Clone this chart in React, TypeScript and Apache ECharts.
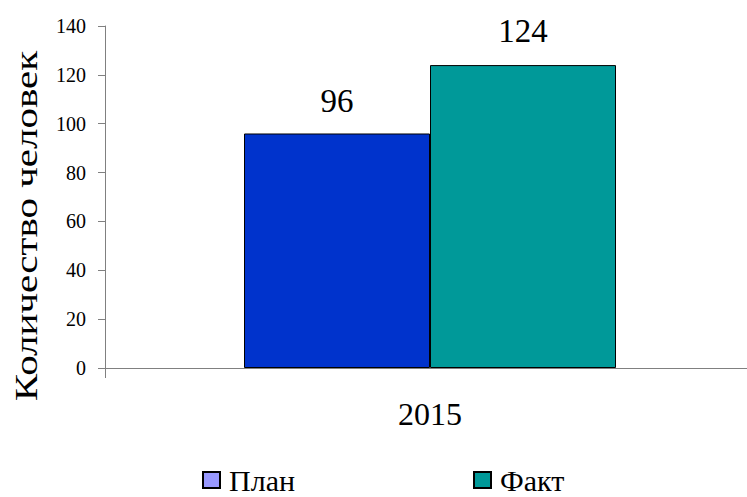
import React, { useEffect, useRef } from "react";
import * as echarts from "echarts";

const categories = ["2015"];
const planValues = [96];
const factValues = [124];
const yTicks = [0, 20, 40, 60, 80, 100, 120, 140];
const yTitle = "Количество человек";
const seriesNames = ["План", "Факт"];

const FONT = "'Liberation Serif', 'DejaVu Serif', serif";

export default function App() {
  const ref = useRef<HTMLDivElement>(null);
  useEffect(() => {
    const chart = echarts.init(ref.current!, null, { renderer: "svg" });
    const legendCommon = {
      top: 465,
      padding: 0,
      itemWidth: 17,
      itemHeight: 16,
      itemGap: 0,
      icon: "rect",
      textStyle: { fontSize: 30, color: "#000", fontFamily: FONT, padding: [0, 0, 0, 4] },
    };
    chart.setOption({
      animation: false,
      grid: { left: 105, top: 26, width: 650, height: 342, containLabel: false },
      xAxis: {
        type: "category",
        data: categories,
        axisLine: { lineStyle: { color: "#808080", width: 1 } },
        axisTick: { show: true, alignWithLabel: false, length: 10, lineStyle: { color: "#808080" } },
        axisLabel: { margin: 30, fontSize: 32, color: "#000", fontFamily: FONT },
      },
      yAxis: {
        type: "value",
        min: yTicks[0],
        max: yTicks[yTicks.length - 1],
        interval: 20,
        axisLine: { show: true, lineStyle: { color: "#808080", width: 1 } },
        axisTick: { show: true, length: 7, lineStyle: { color: "#808080" } },
        splitLine: { show: false },
        axisLabel: { margin: 19, fontSize: 20, color: "#000", fontFamily: FONT },
      },
      legend: [
        { ...legendCommon, data: [seriesNames[0]], left: 202 },
        { ...legendCommon, data: [seriesNames[1]], left: 473 },
      ],
      graphic: [
        {
          type: "text",
          x: 26,
          y: 226,
          rotation: Math.PI / 2,
          scaleY: 0.78,
          style: {
            text: yTitle,
            fontSize: 41,
            fontFamily: FONT,
            fill: "#000",
            align: "center",
            verticalAlign: "middle",
          },
        },
      ],
      series: [
        {
          name: seriesNames[0],
          type: "bar",
          data: planValues.map((v) => ({ value: v, itemStyle: { color: "#0033CC" } })),
          barWidth: 186,
          barGap: "0%",
          itemStyle: { color: "#9999FF", borderColor: "#000", borderWidth: 1 },
          label: { show: true, position: "top", distance: 16, fontSize: 33, color: "#000", fontFamily: FONT },
        },
        {
          name: seriesNames[1],
          type: "bar",
          data: factValues,
          barWidth: 186,
          barGap: "0%",
          itemStyle: { color: "#009999", borderColor: "#000", borderWidth: 1 },
          label: { show: true, position: "top", distance: 18, fontSize: 33, color: "#000", fontFamily: FONT },
        },
      ],
    });
    return () => chart.dispose();
  }, []);
  return (
    <div style={{ width: 747, height: 497, position: "absolute", left: 0, top: 0, overflow: "hidden" }}>
      <div ref={ref} style={{ width: 760, height: 497 }} />
    </div>
  );
}
